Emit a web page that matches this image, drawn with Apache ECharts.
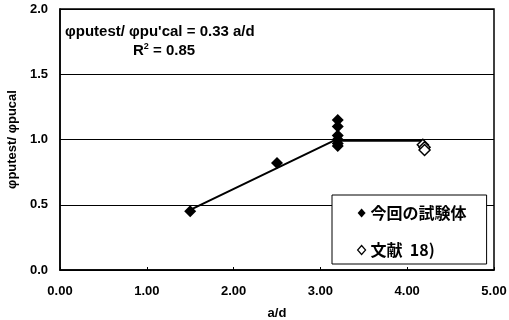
<!DOCTYPE html>
<html><head><meta charset="utf-8">
<script src="https://cdn.jsdelivr.net/npm/echarts@6/dist/echarts.min.js"></script>
<style>html,body{margin:0;padding:0;background:#fff}#c{width:509px;height:320px}</style>
</head><body><div id="c"></div>
<script>
const xTicks = ['0.00','1.00','2.00','3.00','4.00','5.00'];
const thisTestX = [1.5, 2.5, 3.2, 3.2, 3.2, 3.2, 3.2, 3.2];
const thisTestY = [0.45, 0.82, 1.15, 1.10, 1.03, 1.00, 0.97, 0.95];
const refX = [4.18, 4.2, 4.2];
const refY = [0.96, 0.94, 0.92];
const fitX = [1.5, 3.15, 4.2];
const fitY = [0.46, 0.99, 0.99];
const FONT = '"Liberation Sans", Arial, sans-serif';
const chart = echarts.init(document.getElementById('c'));
chart.setOption({
  animation: false,
  textStyle: {fontFamily: FONT},
  grid: {left: 60, right: 15, top: 9, bottom: 50, show: true, borderColor: '#000', borderWidth: 1.5,
    containLabel: false, outerBoundsMode: 'none'},
  xAxis: {type: 'value', min: 0, max: 5, interval: 1,
    name: 'a/d', nameLocation: 'middle', nameGap: 37,
    nameTextStyle: {fontSize: 13, fontWeight: 'bold', color: '#000', fontFamily: FONT},
    axisLine: {show: true, lineStyle: {color: '#000', width: 1.5}},
    axisTick: {show: true, inside: true, length: 3, lineStyle: {color: '#000'}},
    axisLabel: {color: '#000', fontSize: 13, fontWeight: 'bold', margin: 15, fontFamily: FONT,
      formatter: v => xTicks[Math.round(v)]},
    splitLine: {show: false}},
  yAxis: {type: 'value', min: 0, max: 2, interval: 0.5,
    name: 'φputest/ φpucal', nameLocation: 'middle', nameGap: 41,
    nameTextStyle: {fontSize: 13, fontWeight: 'bold', color: '#000', fontFamily: FONT},
    axisLine: {show: true, lineStyle: {color: '#000', width: 1.5}},
    axisTick: {show: false},
    axisLabel: {color: '#000', fontSize: 13, fontWeight: 'bold', margin: 12, fontFamily: FONT,
      formatter: v => v.toFixed(1)},
    splitLine: {show: true, lineStyle: {color: '#000', width: 1}}},
  legend: {orient: 'vertical', left: 332, top: 195,
    data: [{name: '今回の試験体', icon: 'diamond'}, {name: '文献  18)', icon: 'diamond'}],
    itemWidth: 8, itemHeight: 9, itemGap: 21,
    itemStyle: {borderWidth: 1.2},
    padding: [10, 20, 6, 25],
    borderColor: '#000', borderWidth: 1, backgroundColor: '#fff',
    textStyle: {fontSize: 16, fontWeight: 'bold', color: '#000', fontFamily: '"Noto Sans CJK JP", ' + FONT}},
  graphic: [
    {type: 'text', left: 65, top: 24, style: {text: 'φputest/ φpu\'cal = 0.33 a/d', font: 'bold 15px ' + FONT, fill: '#000'}},
    {type: 'text', left: 133, top: 42, style: {
      text: '{n|R}{s|2}{n| = 0.85}',
      rich: {n: {font: 'bold 15px ' + FONT, fill: '#000', verticalAlign: 'bottom'},
             s: {font: 'bold 9px ' + FONT, fill: '#000', verticalAlign: 'top', padding: [0, 0, 7, 0]}}}}
  ],
  series: [
    {type: 'line', name: 'fit', data: fitX.map((x, i) => [x, fitY[i]]), showSymbol: false, symbol: 'none',
      lineStyle: {color: '#000', width: 2}, z: 2, silent: true},
    {type: 'scatter', name: '今回の試験体', data: thisTestX.map((x, i) => [x, thisTestY[i]]),
      symbol: 'diamond', symbolSize: 12, itemStyle: {color: '#000', opacity: 1}, z: 3},
    {type: 'scatter', name: '文献  18)', data: refX.map((x, i) => [x, refY[i]]),
      symbol: 'diamond', symbolSize: 11, itemStyle: {color: '#fff', borderColor: '#000', borderWidth: 1.5, opacity: 1}, z: 3}
  ]
});
</script></body></html>
